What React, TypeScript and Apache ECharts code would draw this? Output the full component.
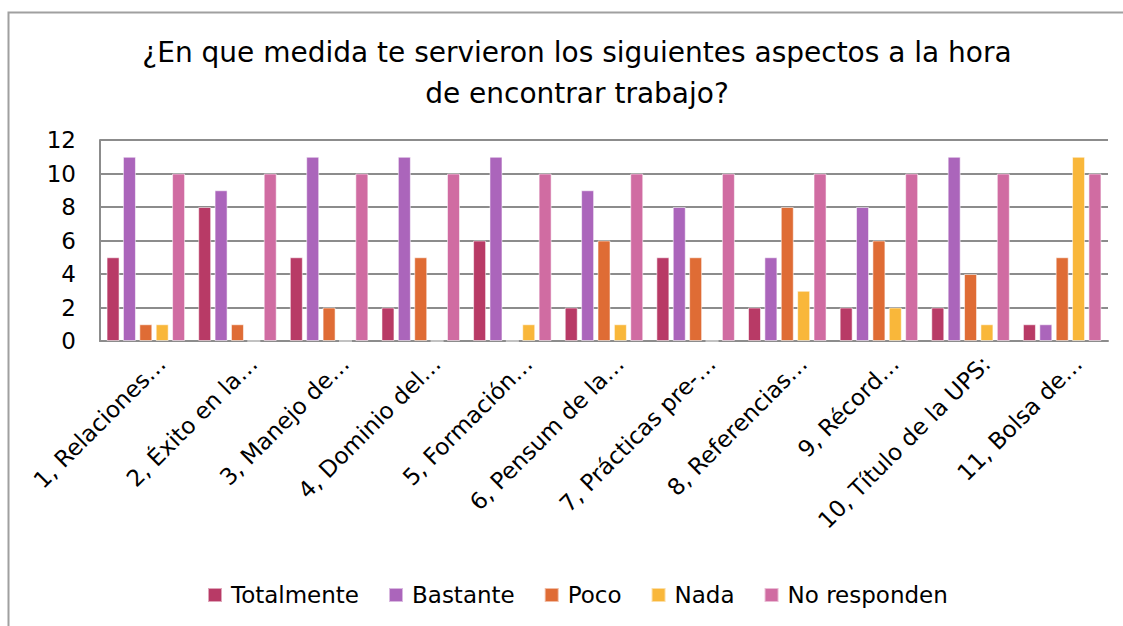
import React, { useEffect, useRef } from "react";
import * as echarts from "echarts";

const categories = [
  "1, Relaciones…",
  "2, Éxito en la…",
  "3, Manejo de…",
  "4, Dominio del…",
  "5, Formación…",
  "6, Pensum de la…",
  "7, Prácticas pre-…",
  "8, Referencias…",
  "9, Récord…",
  "10, Título de la UPS:",
  "11, Bolsa de…",
];

const totalmente = [5, 8, 5, 2, 6, 2, 5, 2, 2, 2, 1];
const bastante = [11, 9, 11, 11, 11, 9, 8, 5, 8, 11, 1];
const poco = [1, 1, 2, 5, 0, 6, 5, 8, 6, 4, 5];
const nada = [1, 0, 0, 0, 1, 1, 0, 3, 2, 1, 11];
const noResponden = [10, 10, 10, 10, 10, 10, 10, 10, 10, 10, 10];

const seriesNames = ["Totalmente", "Bastante", "Poco", "Nada", "No responden"];
const seriesData = [totalmente, bastante, poco, nada, noResponden];
const seriesColors = ["#B83A66", "#AB65BB", "#DF6C35", "#F9B73A", "#D06CA2"];

const titleText =
  "¿En que medida te servieron los siguientes aspectos a la hora\nde encontrar trabajo?";

const FONT = "'DejaVu Sans', 'Open Sans', sans-serif";

export default function App() {
  const ref = useRef<HTMLDivElement>(null);
  useEffect(() => {
    if (!ref.current) return;
    const chart = echarts.init(ref.current, null, { renderer: "svg" });
    chart.setOption({
      animation: false,
      backgroundColor: "#ffffff",
      textStyle: { fontFamily: FONT },
      title: {
        text: titleText,
        left: 572,
        top: 27,
        textAlign: "center",
        textStyle: {
          fontFamily: FONT,
          fontSize: 28,
          fontWeight: "normal",
          color: "#000",
          lineHeight: 41,
        },
      },
      graphic: [
        {
          type: "rect",
          shape: { x: 8.5, y: 12.5, width: 1130, height: 640 },
          style: { fill: "none", stroke: "#a0a0a0", lineWidth: 2 },
          silent: true,
          z: 100,
        },
      ],
      legend: {
        top: 583,
        left: 207,
        padding: 0,
        itemWidth: 14,
        itemHeight: 14,
        itemGap: 29,
        icon: "rect",
        textStyle: {
          fontFamily: FONT,
          fontSize: 23,
          lineHeight: 24,
          color: "#000",
          padding: [0, 0, 0, 4],
        },
        data: seriesNames,
      },
      grid: { left: 100, right: 15, top: 140, bottom: 285, containLabel: false },
      xAxis: {
        type: "category",
        data: categories,
        axisLine: { show: true, lineStyle: { color: "#8c8c8c", width: 2 } },
        axisTick: { show: false },
        axisLabel: {
          rotate: 45,
          interval: 0,
          margin: 3,
          align: "right",
          verticalAlign: "top",
          padding: [11, 0, 0, 0],
          fontFamily: FONT,
          fontSize: 23,
          color: "#000",
        },
      },
      yAxis: {
        type: "value",
        min: 0,
        max: 12,
        interval: 2,
        axisLine: { show: true, lineStyle: { color: "#8c8c8c", width: 2 } },
        axisTick: { show: false },
        splitLine: { show: true, lineStyle: { color: "#8c8c8c", width: 2 } },
        axisLabel: {
          margin: 24,
          fontFamily: FONT,
          fontSize: 23,
          color: "#000",
        },
      },
      series: seriesNames.map((name, i) => ({
        name,
        type: "bar",
        data: seriesData[i],
        barWidth: 13,
        barGap: "26%",
        itemStyle: {
          color: seriesColors[i],
          borderColor: "rgba(255,255,255,0.55)",
          borderWidth: 1,
        },
      })),
    });
    return () => chart.dispose();
  }, []);
  return (
    <div
      ref={ref}
      style={{ position: "fixed", left: 0, top: 0, width: 1123, height: 626 }}
    />
  );
}
